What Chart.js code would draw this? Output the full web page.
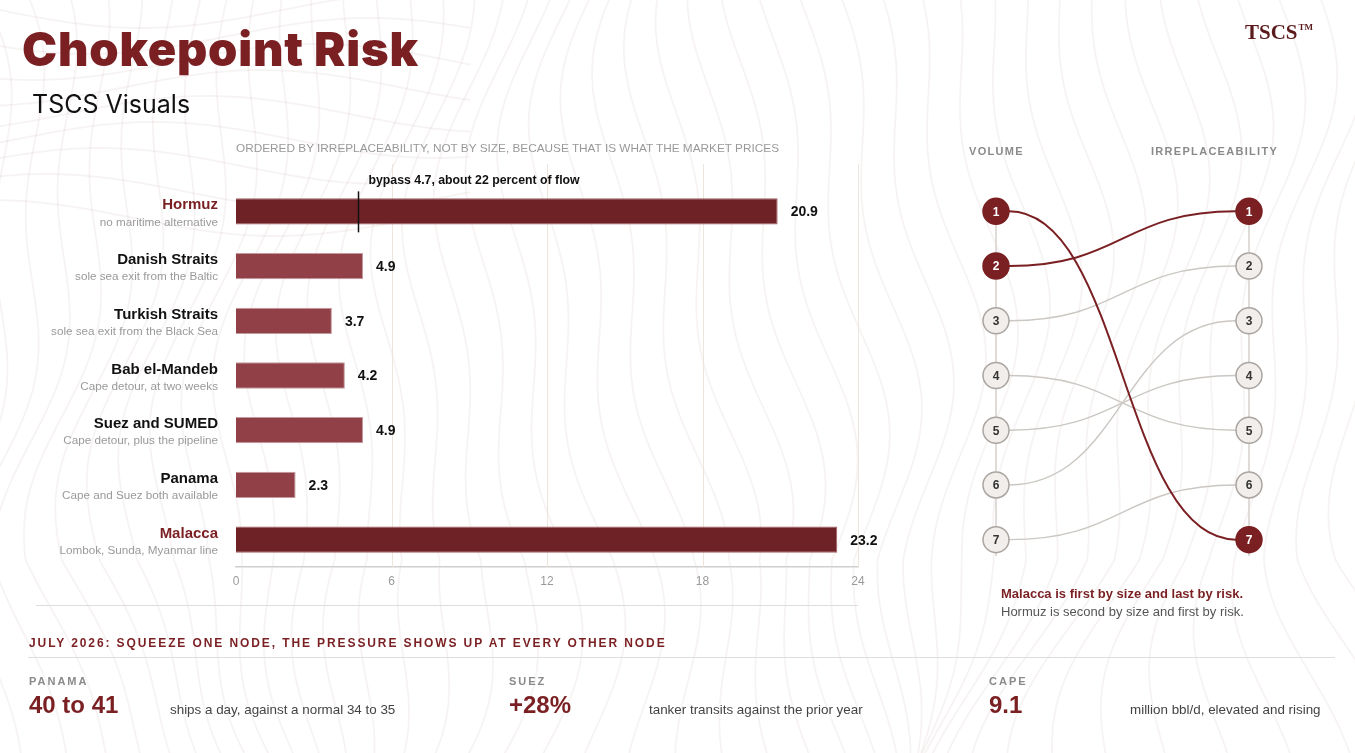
<!DOCTYPE html>
<html>
<head>
<meta charset="utf-8">
<script src="https://cdn.jsdelivr.net/npm/chart.js@4.4.1/dist/chart.umd.min.js"></script>
<style>
  html, body { margin: 0; padding: 0; }
  body { width: 1355px; height: 753px; position: relative; overflow: hidden; background: #fff; font-family: "Liberation Sans", Arial, sans-serif; }
  .abs { position: absolute; white-space: nowrap; line-height: 1; }
  #bg { position: absolute; left: 0; top: 0; }
  .title { left: 22px; top: 25px; font-family: Inter, sans-serif; font-weight: 900; font-size: 47px; color: #7a1f22; letter-spacing: 0.8px; }
  .sub { left: 32px; top: 92px; font-family: Inter, sans-serif; font-size: 25px; color: #111; }
  .logo { left: 1245px; top: 22px; font-family: "Liberation Serif", serif; font-weight: bold; font-size: 21px; color: #5b1a1c; }
  .logo sup { font-size: 9px; vertical-align: 9px; margin-left: 1px; }
  .kicker { left: 236px; top: 143px; font-size: 11.8px; color: #999; }
  .colhead { top: 146px; font-size: 11px; font-weight: bold; color: #8a8a8a; letter-spacing: 1.3px; }
  .cap1 { left: 1001px; top: 587px; font-size: 13px; font-weight: bold; color: #7a1f22; }
  .cap2 { left: 1001px; top: 605px; font-size: 13px; color: #555; }
  .rule { position: absolute; height: 1px; background: #ddd; }
  .sect { left: 29px; top: 637px; font-size: 12px; font-weight: bold; color: #7a1f22; letter-spacing: 1.9px; }
  .slab { top: 676px; font-size: 11px; font-weight: bold; color: #8a8a8a; letter-spacing: 2px; }
  .sval { top: 693px; font-size: 24px; font-weight: bold; color: #7a1f22; }
  .sdesc { top: 703px; font-size: 13.4px; color: #444; }
  #barWrap { position: absolute; left: 0; top: 130px; width: 900px; height: 467px; }
  #slopeWrap { position: absolute; left: 940px; top: 130px; width: 380px; height: 470px; }
</style>
</head>
<body>
<canvas id="bg" width="1355" height="753"></canvas>

<div class="abs title">Chokepoint Risk</div>
<div class="abs sub">TSCS Visuals</div>
<div class="abs logo">TSCS<sup>TM</sup></div>

<div class="abs kicker">ORDERED BY IRREPLACEABILITY, NOT BY SIZE, BECAUSE THAT IS WHAT THE MARKET PRICES</div>
<div class="abs colhead" style="left:969px">VOLUME</div>
<div class="abs colhead" style="left:1151px">IRREPLACEABILITY</div>

<div id="barWrap"><canvas id="bars"></canvas></div>
<div id="slopeWrap"><canvas id="slope"></canvas></div>

<div class="abs cap1">Malacca is first by size and last by risk.</div>
<div class="abs cap2">Hormuz is second by size and first by risk.</div>

<div class="rule" style="left:36px; width:822px; top:605px"></div>
<div class="abs sect">JULY 2026: SQUEEZE ONE NODE, THE PRESSURE SHOWS UP AT EVERY OTHER NODE</div>
<div class="rule" style="left:28px; width:1307px; top:657px"></div>

<div class="abs slab" style="left:29px">PANAMA</div>
<div class="abs sval" style="left:29px">40 to 41</div>
<div class="abs sdesc" style="left:170px">ships a day, against a normal 34 to 35</div>

<div class="abs slab" style="left:509px">SUEZ</div>
<div class="abs sval" style="left:509px">+28%</div>
<div class="abs sdesc" style="left:649px">tanker transits against the prior year</div>

<div class="abs slab" style="left:989px">CAPE</div>
<div class="abs sval" style="left:989px">9.1</div>
<div class="abs sdesc" style="left:1130px">million bbl/d, elevated and rising</div>

<script>
// chokepoints, ordered by irreplaceability
const straits = ['Hormuz', 'Danish Straits', 'Turkish Straits', 'Bab el-Mandeb', 'Suez and SUMED', 'Panama', 'Malacca']
const notes = ['no maritime alternative', 'sole sea exit from the Baltic', 'sole sea exit from the Black Sea',
    'Cape detour, at two weeks', 'Cape detour, plus the pipeline', 'Cape and Suez both available', 'Lombok, Sunda, Myanmar line']
const flows = [20.9, 4.9, 3.7, 4.2, 4.9, 2.3, 23.2]
const volumeRank = [2, 3, 6, 5, 4, 7, 1]
const irreplaceRank = [1, 2, 3, 4, 5, 6, 7]
const highlighted = ['Hormuz', 'Malacca']
const xTicks = [0, 6, 12, 18, 24]
const bypass = 4.7
const bypassLabel = 'bypass 4.7, about 22 percent of flow'

const RED = '#7a1f22'
const isHot = (i) => highlighted.includes(straits[i])

// faint contour lines behind everything
const drawBackground = () => {
    const c = document.getElementById('bg').getContext('2d')
    c.strokeStyle = 'rgba(165, 120, 120, 0.09)'
    c.lineWidth = 1.8
    for (let k = 0; k < 46; k++) {
        const x0 = -60 + k * 32
        c.beginPath()
        for (let y = -10; y <= 763; y += 6) {
            const x = x0 + 38 * Math.sin(y / 160 + k * 0.18) + 16 * Math.sin(y / 55 + k * 0.45) + (y > 560 ? (y - 560) * 0.35 * Math.sin(k * 0.3) : 0)
            if (y === -10) c.moveTo(x, y)
            else c.lineTo(x, y)
        }
        c.stroke()
    }
    for (let k = 0; k < 9; k++) {
        const y0 = 10 + k * 26
        c.beginPath()
        for (let x = -10; x <= 470; x += 6) {
            const y = y0 + 18 * Math.sin(x / 90 + k * 0.6)
            if (x === -10) c.moveTo(x, y)
            else c.lineTo(x, y)
        }
        c.stroke()
    }
}
drawBackground()

const barLabels = {
    id: 'barLabels',
    beforeDatasetsDraw(chart) {
        const { ctx, chartArea, scales } = chart
        ctx.save()
        ctx.strokeStyle = '#ece5de'
        ctx.lineWidth = 1
        xTicks.slice(1).forEach(v => {
            const x = Math.round(scales.x.getPixelForValue(v)) + 0.5
            ctx.beginPath()
            ctx.moveTo(x, chartArea.top - 20)
            ctx.lineTo(x, chartArea.bottom)
            ctx.stroke()
        })
        ctx.restore()
    },
    afterDatasetsDraw(chart) {
        const { ctx, scales } = chart
        const meta = chart.getDatasetMeta(0)
        ctx.save()
        meta.data.forEach((bar, i) => {
            ctx.textAlign = 'right'
            ctx.textBaseline = 'middle'
            ctx.fillStyle = isHot(i) ? RED : '#111'
            ctx.font = 'bold 15px "Liberation Sans", Arial, sans-serif'
            ctx.fillText(straits[i], 218, bar.y - 6)
            ctx.fillStyle = '#9a9a9a'
            ctx.font = '11.7px "Liberation Sans", Arial, sans-serif'
            ctx.fillText(notes[i], 218, bar.y + 11)

            ctx.textAlign = 'left'
            ctx.fillStyle = '#111'
            ctx.font = 'bold 14px "Liberation Sans", Arial, sans-serif'
            ctx.fillText(flows[i].toFixed(1), bar.x + 13, bar.y + 1)
        })
        // bypass marker on Hormuz
        const hb = meta.data[straits.indexOf('Hormuz')]
        const bx = Math.round(scales.x.getPixelForValue(bypass)) + 0.5
        ctx.strokeStyle = '#111'
        ctx.lineWidth = 1.5
        ctx.beginPath()
        ctx.moveTo(bx, hb.y - 20)
        ctx.lineTo(bx, hb.y + 21)
        ctx.stroke()
        ctx.fillStyle = '#111'
        ctx.font = 'bold 12.3px "Liberation Sans", Arial, sans-serif'
        ctx.textAlign = 'left'
        ctx.fillText(bypassLabel, bx + 10, hb.y - 31)
        ctx.restore()
    }
}

new Chart(document.getElementById('bars'), {
    type: 'bar',
    data: {
        labels: straits,
        datasets: [{
            data: flows,
            backgroundColor: straits.map((s, i) => isHot(i) ? '#6f2226' : '#914047'),
            borderColor: straits.map((s, i) => isHot(i) ? '#a06064' : '#c39a9c'),
            borderWidth: 1,
            barPercentage: 0.48,
            categoryPercentage: 1
        }]
    },
    options: {
        indexAxis: 'y',
        responsive: true,
        maintainAspectRatio: false,
        animation: false,
        layout: { padding: { left: 236, right: 42, top: 54, bottom: 0 } },
        plugins: { legend: { display: false }, tooltip: { enabled: false } },
        scales: {
            x: {
                min: 0,
                max: 24,
                afterBuildTicks: (s) => { s.ticks = xTicks.map(v => ({ value: v })) },
                afterFit: (s) => { s.height = 30 },
                grid: { display: false, drawTicks: false },
                border: { display: true, color: '#cfcfcf', width: 1.5 },
                ticks: { color: '#9a9a9a', font: { size: 12, family: '"Liberation Sans", Arial' }, padding: 7 }
            },
            y: { display: false }
        }
    },
    plugins: [barLabels]
})

// slope chart: volume rank on the left, irreplaceability rank on the right
const slopeDecor = {
    id: 'slopeDecor',
    beforeDatasetsDraw(chart) {
        const { ctx, scales } = chart
        const x0 = scales.x.getPixelForValue(0)
        const x1 = scales.x.getPixelForValue(1)
        const top = scales.y.getPixelForValue(0.85)
        const bot = scales.y.getPixelForValue(7.3)
        ctx.save()
        ctx.strokeStyle = '#dedbd8'
        ctx.lineWidth = 2
        ;[x0, x1].forEach(x => {
            ctx.beginPath()
            ctx.moveTo(x, top)
            ctx.lineTo(x, bot)
            ctx.stroke()
        })
        const order = straits.map((s, i) => i).sort((a, b) => isHot(a) - isHot(b))
        order.forEach(i => {
            const ya = scales.y.getPixelForValue(volumeRank[i])
            const yb = scales.y.getPixelForValue(irreplaceRank[i])
            const xa = x0 + 13
            const xb = x1 - 13
            const mid = (xa + xb) / 2
            ctx.strokeStyle = isHot(i) ? RED : '#cbc7c3'
            ctx.lineWidth = isHot(i) ? 2 : 1.4
            ctx.beginPath()
            ctx.moveTo(xa, ya)
            ctx.bezierCurveTo(mid, ya, mid, yb, xb, yb)
            ctx.stroke()
        })
        ctx.restore()
    },
    afterDatasetsDraw(chart) {
        const { ctx } = chart
        ctx.save()
        ctx.textAlign = 'center'
        ctx.textBaseline = 'middle'
        ctx.font = 'bold 12px "Liberation Sans", Arial, sans-serif'
        chart.data.datasets.forEach((ds, d) => {
            chart.getDatasetMeta(d).data.forEach((pt, j) => {
                const i = ds.owner[j]
                ctx.fillStyle = isHot(i) ? '#fff' : '#333'
                ctx.fillText(String(ds.data[j].y), pt.x, pt.y + 1)
            })
        })
        ctx.restore()
    }
}

const rankSet = (ranks) => ({
    data: straits.map((s, i) => ({ x: ranks === volumeRank ? 0 : 1, y: ranks[i] })),
    owner: straits.map((s, i) => i),
    pointRadius: 13,
    pointHoverRadius: 13,
    pointBackgroundColor: straits.map((s, i) => isHot(i) ? RED : '#f1eeeb'),
    pointBorderColor: straits.map((s, i) => isHot(i) ? RED : '#aaa5a0'),
    pointBorderWidth: 1.5,
    clip: false
})

new Chart(document.getElementById('slope'), {
    type: 'scatter',
    data: { datasets: [rankSet(volumeRank), rankSet(irreplaceRank)] },
    options: {
        responsive: true,
        maintainAspectRatio: false,
        animation: false,
        layout: { padding: { left: 56, right: 71, top: 54, bottom: 33 } },
        plugins: { legend: { display: false }, tooltip: { enabled: false } },
        scales: {
            x: { min: 0, max: 1, display: false },
            y: { min: 0.5, max: 7.5, reverse: true, display: false }
        }
    },
    plugins: [slopeDecor]
})
</script>
</body>
</html>
